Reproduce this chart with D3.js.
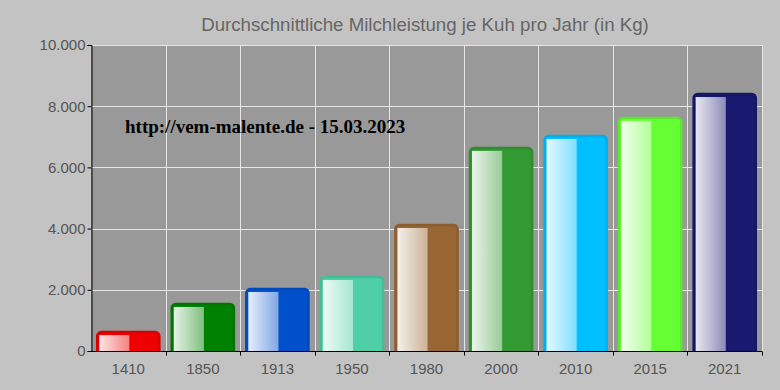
<!DOCTYPE html>
<html>
<head>
<meta charset="utf-8">
<script src="https://cdn.jsdelivr.net/npm/d3@7"></script>
<style>
  body { margin: 0; background: #c3c3c3; }
  svg { display: block; font-family: "Liberation Sans", Arial, sans-serif; }
</style>
</head>
<body>
<div id="chart"></div>
<script>
// data
const years = ["1410", "1850", "1913", "1950", "1980", "2000", "2010", "2015", "2021"]
const milk = [650, 1570, 2060, 2450, 4150, 6670, 7060, 7650, 8430]
const barColors = ["#ee0000", "#008000", "#0050cc", "#4ecfa5", "#996633", "#339933", "#00bfff", "#66ff33", "#191970"]
const yTicks = [0, 2000, 4000, 6000, 8000, 10000]

const W = 780, H = 390
const M = { TOP: 45, BOTTOM: 39, LEFT: 91, RIGHT: 18 }

const de = d3.formatLocale({ decimal: ",", thousands: ".", grouping: [3], currency: ["", "€"] })
const fmt = de.format(",d")

const svg = d3.select("#chart").append("svg")
    .attr("width", W)
    .attr("height", H)

const y = d3.scaleLinear().domain([0, 10000]).range([H - M.BOTTOM, M.TOP])
const x = d3.scaleBand().domain(years).range([M.LEFT, W - M.RIGHT])
    .paddingInner(0.14).paddingOuter(0.07)
// category boundaries (gridlines + x ticks)
const edge = d3.scaleLinear().domain([0, years.length]).range([M.LEFT, W - M.RIGHT])

// plot background
svg.append("rect")
    .attr("x", M.LEFT).attr("y", M.TOP)
    .attr("width", W - M.RIGHT - M.LEFT)
    .attr("height", H - M.BOTTOM - M.TOP)
    .attr("fill", "#999999")

// grid
const grid = svg.append("g").attr("stroke", "#e6e6e6").attr("stroke-width", 1)
grid.selectAll(".hg").data(yTicks.slice(1)).enter().append("line")
    .attr("x1", M.LEFT).attr("x2", W - M.RIGHT)
    .attr("y1", d => Math.round(y(d)) + 0.5).attr("y2", d => Math.round(y(d)) + 0.5)
grid.selectAll(".vg").data(d3.range(1, years.length + 1)).enter().append("line")
    .attr("x1", d => Math.round(edge(d)) + 0.5).attr("x2", d => Math.round(edge(d)) + 0.5)
    .attr("y1", M.TOP).attr("y2", H - M.BOTTOM)

// title
svg.append("text")
    .attr("x", 425).attr("y", 31)
    .attr("text-anchor", "middle")
    .attr("font-size", 18.7)
    .attr("fill", "#666")
    .text("Durchschnittliche Milchleistung je Kuh pro Jahr (in Kg)")

// gradient for the light left half of each bar
const defs = svg.append("defs")
const grad = defs.append("linearGradient").attr("id", "shine")
grad.append("stop").attr("offset", "0%").attr("stop-color", "#fff").attr("stop-opacity", 0.9)
grad.append("stop").attr("offset", "100%").attr("stop-color", "#fff").attr("stop-opacity", 0.5)

const data = years.map((yr, i) => ({ year: yr, value: milk[i], color: barColors[i] }))

const bars = svg.append("g").selectAll("g").data(data).enter().append("g")
bars.append("rect")
    .attr("x", d => x(d.year) + 1)
    .attr("y", d => y(d.value) + 1)
    .attr("width", x.bandwidth() - 2)
    .attr("height", d => y(0) - y(d.value) + 3)
    .attr("rx", 4)
    .attr("fill", d => d.color)
    .attr("stroke", d => d3.color(d.color).darker(0.25))
    .attr("stroke-width", 2.5)
bars.append("rect")
    .attr("x", d => x(d.year) + 3)
    .attr("y", d => y(d.value) + 4)
    .attr("width", x.bandwidth() * 0.47)
    .attr("height", d => y(0) - y(d.value) - 4)
    .attr("fill", "url(#shine)")

// clip bars below the axis by redrawing background strip
svg.append("rect")
    .attr("x", M.LEFT - 2).attr("y", H - M.BOTTOM + 1)
    .attr("width", W - M.LEFT).attr("height", M.BOTTOM)
    .attr("fill", "#c3c3c3")

// y axis
const yAxis = svg.append("g")
    .attr("transform", `translate(${M.LEFT + 0.5},0)`)
    .call(d3.axisLeft(y).tickValues(yTicks).tickFormat(fmt).tickSize(4).tickPadding(2))
yAxis.select(".domain").attr("stroke", "#000")
yAxis.selectAll(".tick line").attr("stroke", "#000")
yAxis.selectAll("text").attr("font-size", 15).attr("fill", "#555")
    .attr("font-family", "Liberation Sans, Arial, sans-serif")

// x axis
const xAxisG = svg.append("g").attr("transform", `translate(0,${H - M.BOTTOM + 0.5})`)
xAxisG.append("line")
    .attr("x1", M.LEFT).attr("x2", W - M.RIGHT)
    .attr("stroke", "#000")
xAxisG.selectAll(".xt").data(d3.range(1, years.length + 1)).enter().append("line")
    .attr("x1", d => Math.round(edge(d)) + 0.5).attr("x2", d => Math.round(edge(d)) + 0.5)
    .attr("y1", 0).attr("y2", 4)
    .attr("stroke", "#000")
xAxisG.selectAll("text").data(years).enter().append("text")
    .attr("x", d => x(d) + x.bandwidth() / 2)
    .attr("y", 22)
    .attr("text-anchor", "middle")
    .attr("font-size", 15)
    .attr("fill", "#555")
    .text(d => d)

// watermark
svg.append("text")
    .attr("x", 125).attr("y", 133)
    .attr("font-family", "Liberation Serif, 'Times New Roman', serif")
    .attr("font-weight", "bold")
    .attr("font-size", 19)
    .attr("fill", "#000")
    .text("http://vem-malente.de - 15.03.2023")
</script>
</body>
</html>
